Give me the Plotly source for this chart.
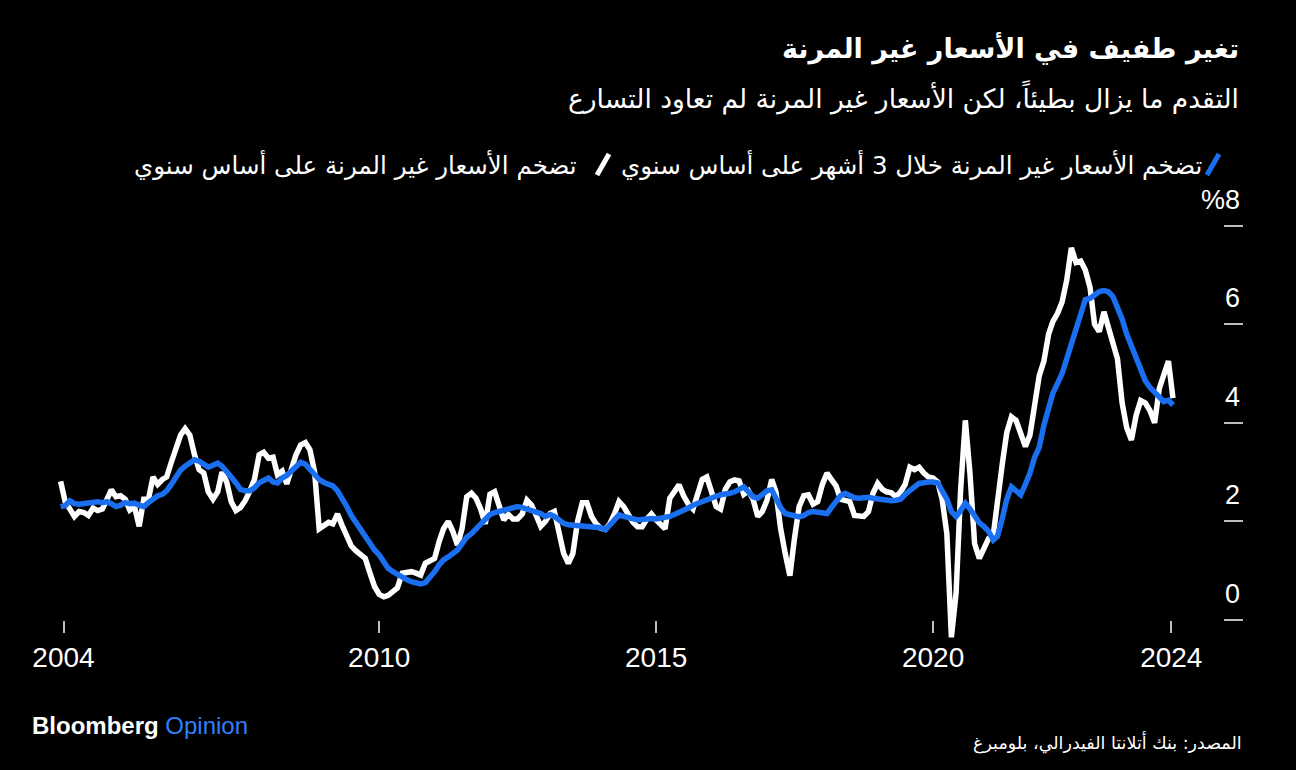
import pandas as pd
import plotly.graph_objects as go

# monthly, Apr 2004 -> May 2024
start_month = "2004-04-01"

# 3-month annualized sticky price inflation (white)
sticky_3m = [
    2.81, 2.40, 2.25, 2.10, 2.20, 2.18, 2.12, 2.27, 2.22,
    2.25, 2.45, 2.64, 2.50, 2.52, 2.45, 2.23, 2.30, 1.90, 2.45, 2.45, 2.90,
    2.75, 2.85, 2.90, 3.20, 3.50, 3.75, 3.88, 3.75, 3.35, 3.05, 2.98, 2.60,
    2.45, 2.60, 3.00, 2.80, 2.40, 2.22, 2.28, 2.42, 2.62, 2.85, 3.35, 3.40,
    3.28, 3.30, 2.95, 3.02, 2.76, 3.05, 3.35, 3.55, 3.60, 3.45, 3.00, 1.85,
    1.90, 1.98, 1.95, 2.15, 1.92, 1.70, 1.50, 1.40, 1.33, 1.25, 0.95, 0.68,
    0.52, 0.47, 0.50, 0.58, 0.65, 0.95, 0.97, 0.98, 0.95, 0.91, 1.15, 1.20,
    1.25, 1.60, 1.85, 2.00, 1.80, 1.52, 1.85, 2.50, 2.57, 2.47, 2.25, 1.95,
    2.55, 2.60, 2.30, 2.03, 2.14, 2.05, 2.05, 2.15, 2.43, 2.33, 2.12, 1.90,
    2.00, 2.16, 2.20, 1.80, 1.35, 1.15, 1.35, 2.00, 2.38, 2.38, 2.10, 1.95,
    1.86, 1.84, 1.95, 2.15, 2.40, 2.30, 2.16, 1.98, 1.89, 1.89, 2.05, 2.15,
    2.03, 1.95, 1.85, 2.47, 2.62, 2.74, 2.52, 2.35, 2.25, 2.55, 2.85, 2.90,
    2.60, 2.30, 2.25, 2.65, 2.80, 2.84, 2.82, 2.55, 2.62, 2.45, 2.10, 2.20,
    2.43, 2.85, 2.60, 1.85, 1.35, 0.90, 1.65, 2.30, 2.52, 2.54, 2.35, 2.40,
    2.75, 2.98, 2.85, 2.72, 2.45, 2.42, 2.40, 2.12, 2.10, 2.10, 2.20, 2.57,
    2.77, 2.65, 2.60, 2.58, 2.50, 2.60, 2.75, 3.10, 3.05, 3.10, 2.98, 2.90,
    2.88, 2.80, 2.45, 1.75, -0.35, 0.55, 2.65, 4.05, 2.95, 1.55, 1.25, 1.45,
    1.65, 1.72, 2.45, 3.15, 3.80, 4.12, 4.05, 3.82, 3.52, 3.75, 4.40, 4.95,
    5.25, 5.80, 6.05, 6.22, 6.45, 6.90, 7.55, 7.25, 7.28, 7.10, 6.75, 6.00,
    5.85, 6.25, 5.95, 5.58, 5.30, 4.40, 3.90, 3.65, 4.15, 4.45, 4.40, 4.25,
    4.00, 4.70, 4.95, 5.25, 4.50,
]

# year-over-year sticky price inflation (blue)
sticky_yoy = [
    2.30, 2.32, 2.42, 2.36, 2.35, 2.36, 2.37, 2.40, 2.40,
    2.38, 2.40, 2.36, 2.30, 2.33, 2.38, 2.36, 2.37, 2.33, 2.30, 2.38, 2.45,
    2.52, 2.55, 2.62, 2.75, 2.92, 3.04, 3.12, 3.20, 3.25, 3.22, 3.15, 3.10,
    3.14, 3.18, 3.12, 3.02, 2.90, 2.78, 2.65, 2.62, 2.62, 2.68, 2.78, 2.83,
    2.88, 2.80, 2.78, 2.88, 2.93, 3.02, 3.12, 3.20, 3.16, 3.06, 2.95, 2.85,
    2.79, 2.75, 2.72, 2.62, 2.48, 2.30, 2.12, 1.98, 1.82, 1.70, 1.55, 1.42,
    1.32, 1.18, 1.05, 0.98, 0.92, 0.86, 0.82, 0.78, 0.76, 0.73, 0.76, 0.85,
    0.98, 1.12, 1.22, 1.28, 1.35, 1.42, 1.55, 1.68, 1.75, 1.85, 1.93, 2.02,
    2.14, 2.18, 2.20, 2.22, 2.24, 2.28, 2.30, 2.28, 2.25, 2.23, 2.20, 2.16,
    2.10, 2.14, 2.10, 2.02, 1.96, 1.93, 1.92, 1.91, 1.90, 1.90, 1.89, 1.88,
    1.87, 1.83, 1.92, 2.05, 2.13, 2.10, 2.07, 2.04, 2.03, 2.04, 2.06, 2.06,
    2.05, 2.06, 2.07, 2.10, 2.14, 2.18, 2.22, 2.27, 2.33, 2.37, 2.40, 2.43,
    2.47, 2.51, 2.54, 2.55, 2.57, 2.60, 2.66, 2.70, 2.60, 2.50, 2.47, 2.55,
    2.62, 2.64, 2.45, 2.28, 2.16, 2.13, 2.10, 2.09, 2.12, 2.18, 2.20, 2.18,
    2.17, 2.16, 2.28, 2.42, 2.52, 2.57, 2.52, 2.48, 2.47, 2.48, 2.49, 2.47,
    2.45, 2.43, 2.43, 2.42, 2.43, 2.45, 2.55, 2.64, 2.70, 2.77, 2.80, 2.80,
    2.80, 2.78, 2.62, 2.45, 2.20, 2.10, 2.22, 2.37, 2.25, 2.10, 1.97, 1.90,
    1.80, 1.62, 1.70, 2.05, 2.45, 2.70, 2.62, 2.54, 2.75, 2.98, 3.30, 3.50,
    3.95, 4.25, 4.60, 4.80, 5.00, 5.30, 5.60, 5.95, 6.25, 6.50, 6.52, 6.60,
    6.66, 6.68, 6.66, 6.56, 6.35, 6.10, 5.80, 5.55, 5.30, 5.05, 4.85, 4.72,
    4.62, 4.55, 4.43, 4.46, 4.36,
]

x_tick_vals = ["2004-04-20", "2010-01-01", "2015-01-01", "2020-01-01", "2024-04-20"]
x_tick_text = ["2004", "2010", "2015", "2020", "2024"]
y_tick_vals = [0, 2, 4, 6, 8]
y_tick_text = ["0", "2", "4", "6", "%8"]

title = "تغير طفيف في الأسعار غير المرنة"
subtitle = "التقدم ما يزال بطيئاً، لكن الأسعار غير المرنة لم تعاود التسارع"
legend_blue = "تضخم الأسعار غير المرنة خلال 3 أشهر على أساس سنوي"
legend_white = "تضخم الأسعار غير المرنة على أساس سنوي"
source = "المصدر: بنك أتلانتا الفيدرالي، بلومبرغ"

dates = pd.date_range(start_month, periods=len(sticky_yoy), freq="MS")

BLUE = "#1a6ff0"
AR_FONT = "DejaVu Sans"
NUM_FONT = "Liberation Sans"

# plot area in pixels
W, H = 1296, 770
L, R, T, B = 40, 1223, 210, 650


def px(x):
    return (x - L) / (R - L)


def py(y):
    return (B - y) / (B - T)


fig = go.Figure()
fig.add_trace(go.Scatter(x=dates, y=sticky_3m, mode="lines",
                         line=dict(color="white", width=5.5), showlegend=False))
fig.add_trace(go.Scatter(x=dates, y=sticky_yoy, mode="lines",
                         line=dict(color=BLUE, width=5.5), showlegend=False))

fig.update_layout(
    width=W, height=H,
    paper_bgcolor="black", plot_bgcolor="black",
    margin=dict(l=L, r=W - R, t=T, b=H - B),
    xaxis=dict(
        type="date", range=["2003-11-17", "2025-03-27"],
        showgrid=False, zeroline=False, showline=False,
        anchor="free", position=py(620),
        ticks="outside", ticklen=12, tickwidth=1.5, tickcolor="#bdbdbd",
        tickvals=x_tick_vals, ticktext=x_tick_text,
        tickfont=dict(family=NUM_FONT, size=28, color="white"),
    ),
    yaxis=dict(
        range=[-0.6085, 8.316], side="right",
        showgrid=False, zeroline=False, showline=False,
        ticks="outside", ticklen=19, tickwidth=2, tickcolor="#bdbdbd",
        tickvals=y_tick_vals, showticklabels=False,
    ),
)

# y tick labels sit above the tick dashes
for v, t in zip(y_tick_vals, y_tick_text):
    fig.add_annotation(x=px(1242), y=v, xref="paper", yref="y", text=t,
                       showarrow=False, xanchor="right", yanchor="middle", yshift=26,
                       font=dict(family=NUM_FONT, size=27, color="white"))

fig.add_annotation(x=px(1241), y=py(48), xref="paper", yref="paper", text="<b>" + title + "</b>",
                   showarrow=False, xanchor="right", yanchor="middle",
                   font=dict(family=AR_FONT, size=27, color="white"))
fig.add_annotation(x=px(1241), y=py(97), xref="paper", yref="paper", text=subtitle,
                   showarrow=False, xanchor="right", yanchor="middle",
                   font=dict(family=AR_FONT, size=26.5, color="white"))

# legend
fig.add_annotation(x=px(1204), y=py(165), xref="paper", yref="paper", text=legend_blue,
                   showarrow=False, xanchor="right", yanchor="middle",
                   font=dict(family=AR_FONT, size=24.5, color="white"))
fig.add_annotation(x=px(579), y=py(165), xref="paper", yref="paper", text=legend_white,
                   showarrow=False, xanchor="right", yanchor="middle",
                   font=dict(family=AR_FONT, size=24.5, color="white"))
fig.add_shape(type="line", xref="paper", yref="paper",
              x0=px(1207), y0=py(175), x1=px(1219), y1=py(154),
              line=dict(color=BLUE, width=5))
fig.add_shape(type="line", xref="paper", yref="paper",
              x0=px(597), y0=py(175), x1=px(609), y1=py(154),
              line=dict(color="white", width=5))

# footer
fig.add_annotation(x=px(30), y=py(725), xref="paper", yref="paper",
                   text="<b>Bloomberg</b> <span style='color:#2f80ff'>Opinion</span>",
                   showarrow=False, xanchor="left", yanchor="middle",
                   font=dict(family=NUM_FONT, size=24, color="white"))
fig.add_annotation(x=px(1244), y=py(742), xref="paper", yref="paper", text=source,
                   showarrow=False, xanchor="right", yanchor="middle",
                   font=dict(family=AR_FONT, size=17.5, color="white"))

fig.write_html("out.html", config={"displayModeBar": False},
               post_script="document.body.style.margin='0';document.body.style.background='black';")
